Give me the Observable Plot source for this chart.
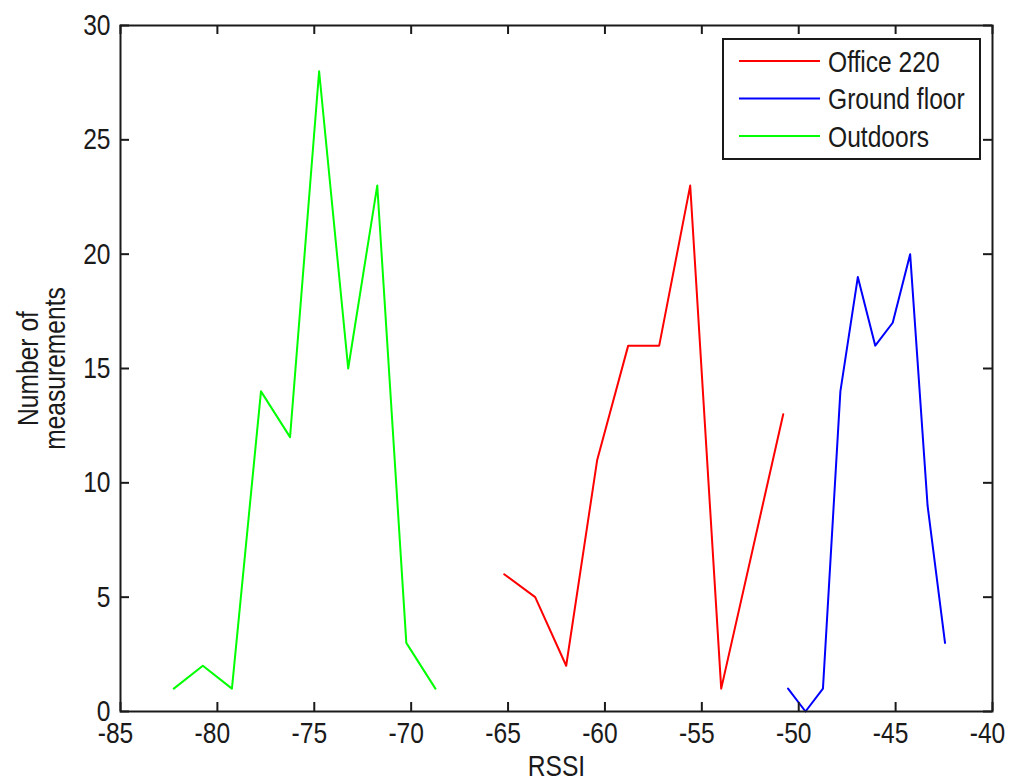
<!DOCTYPE html>
<html>
<head>
<meta charset="utf-8">
<script src="https://cdn.jsdelivr.net/npm/d3@7"></script>
<script src="https://cdn.jsdelivr.net/npm/@observablehq/plot@0.6"></script>
<style>
html, body { margin: 0; padding: 0; background: #fff; }
#chart { width: 1009px; height: 783px; }
</style>
</head>
<body>
<div id="chart"></div>
<script>
// ---- data ----
const seriesNames = ["Office 220", "Ground floor", "Outdoors"];
const seriesColors = ["#ff0000", "#0000ff", "#00ff00"];

const officeRSSI  = [-65.2, -63.6, -62.0, -60.4, -58.8, -57.2, -55.6, -54.0, -52.4, -50.8];
const officeCount = [6, 5, 2, 11, 16, 16, 23, 1, 7, 13];

const groundRSSI  = [-50.55, -49.65, -48.75, -47.85, -46.95, -46.05, -45.15, -44.25, -43.35, -42.45];
const groundCount = [1, 0, 1, 14, 19, 16, 17, 20, 9, 3];

const outdoorRSSI  = [-82.25, -80.75, -79.25, -77.75, -76.25, -74.75, -73.25, -71.75, -70.25, -68.75];
const outdoorCount = [1, 2, 1, 14, 12, 28, 15, 23, 3, 1];

const xTicks = [-85, -80, -75, -70, -65, -60, -55, -50, -45, -40];
const yTicks = [0, 5, 10, 15, 20, 25, 30];
const xLabel = "RSSI";
const yLabel = "Number of\nmeasurements";

// ---- build table ----
const xsAll = [officeRSSI, groundRSSI, outdoorRSSI];
const ysAll = [officeCount, groundCount, outdoorCount];
const rows = [];
seriesNames.forEach((name, i) => {
  xsAll[i].forEach((x, j) => rows.push({series: name, x, y: ysAll[i][j]}));
});

// ---- layout ----
const W = 1009, H = 783;
const mL = 120, mR = 17, mT = 25, mB = 72;
const frameW = W - mL - mR, frameH = H - mT - mB;
const tickLen = 9;
const font = '"Liberation Sans", Arial, Helvetica, sans-serif';
const narrow = " scale(0.82,1)";
const ink = "#1a1a1a";

const chart = Plot.plot({
  width: W,
  height: H,
  marginLeft: mL,
  marginRight: mR,
  marginTop: mT,
  marginBottom: mB,
  style: {fontFamily: font, fontSize: "30px", color: ink, background: "#fff"},
  x: {domain: [-85, -40]},
  y: {domain: [0, 30]},
  color: {domain: seriesNames, range: seriesColors},
  marks: [
    Plot.lineY(rows, {x: "x", y: "y", z: "series", stroke: "series", strokeWidth: 2}),
    Plot.ruleX(xTicks, {x: d => d, insetTop: frameH - tickLen, stroke: ink, strokeWidth: 2}),
    Plot.ruleX(xTicks, {x: d => d, insetBottom: frameH - tickLen, stroke: ink, strokeWidth: 2}),
    Plot.ruleY(yTicks, {y: d => d, insetRight: frameW - tickLen, stroke: ink, strokeWidth: 2}),
    Plot.ruleY(yTicks, {y: d => d, insetLeft: frameW - tickLen, stroke: ink, strokeWidth: 2}),
    Plot.frame({stroke: ink, strokeWidth: 2}),
    Plot.axisX({ticks: xTicks, tickSize: 0, tickPadding: 10, tickFormat: d => String(d), dx: -5,
      label: null, fill: ink}),
    Plot.axisY({ticks: yTicks, tickSize: 0, tickPadding: 10, tickFormat: d => String(d),
      label: null, fill: ink}),
    Plot.text([xLabel], {frameAnchor: "bottom", text: d => d, dy: 64, fill: ink, textAnchor: "middle"}),
    Plot.text([yLabel], {frameAnchor: "left", text: d => d, rotate: -90, dx: -78,
      lineHeight: 0.9, fill: ink, textAnchor: "middle"})
  ]
});

document.getElementById("chart").appendChild(chart);

// narrow (condensed) glyphs like the reference's font
d3.select(chart).selectAll("text").each(function() {
  const t = this.getAttribute("transform") || "";
  this.setAttribute("transform", t + narrow);
});

// ---- legend (inside the plot frame, top right) ----
const svg = d3.select(chart);
const boxW = 257, boxH = 120;
const boxX = W - mR - 12 - boxW, boxY = mT + 14;
const lg = svg.append("g").attr("font-family", font).attr("font-size", 30).attr("text-anchor", "start");
lg.append("rect").attr("x", boxX).attr("y", boxY).attr("width", boxW).attr("height", boxH)
  .attr("fill", "#fff").attr("stroke", ink).attr("stroke-width", 2);
seriesNames.forEach((name, i) => {
  const cy = boxY + 22 + i * 37.5;
  lg.append("line").attr("x1", boxX + 16).attr("x2", boxX + 97).attr("y1", cy).attr("y2", cy)
    .attr("stroke", seriesColors[i]).attr("stroke-width", 2);
  lg.append("text").attr("transform", `translate(${boxX + 105},${cy})` + narrow)
    .attr("dy", "0.35em").attr("fill", ink).attr("text-anchor", "start").text(name);
});
</script>
</body>
</html>
